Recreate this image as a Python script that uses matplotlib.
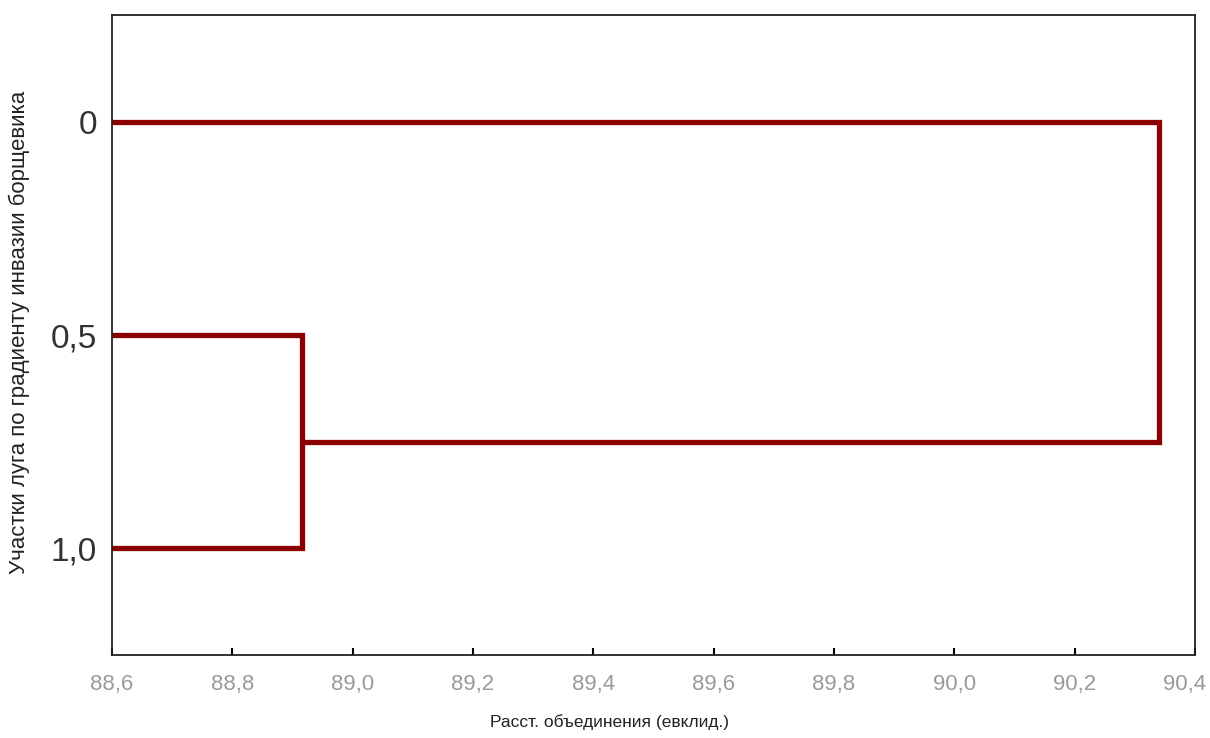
import matplotlib.pyplot as plt
from matplotlib.transforms import ScaledTranslation

plt.rcParams['font.family'] = ['Liberation Sans', 'DejaVu Sans']

# leaves (top to bottom) and the two joins of the tree
leaf_labels = ['0', '0,5', '1,0']
join_pairs = [(1, 2), (0, 3)]          # 3 = cluster made by the first join
join_dist = [88.916, 90.34]

x_ticks = [88.6, 88.8, 89.0, 89.2, 89.4, 89.6, 89.8, 90.0, 90.2, 90.4]
x_tick_labels = ['88,6', '88,8', '89,0', '89,2', '89,4', '89,6', '89,8', '90,0', '90,2', '90,4']

color = '#8b0000'

fig = plt.figure(figsize=(12.1, 7.38), dpi=100)
ax = fig.add_axes([0.0926, 0.1125, 0.895, 0.867])

# node position (y) and height (x); leaves sit at distance 0
pos = {i: i + 1 for i in range(len(leaf_labels))}
hgt = {i: 0.0 for i in range(len(leaf_labels))}
for k, ((a, b), d) in enumerate(zip(join_pairs, join_dist)):
    node = len(leaf_labels) + k
    ax.plot([hgt[a], d, d, hgt[b]], [pos[a], pos[a], pos[b], pos[b]],
            color=color, lw=3.8, solid_joinstyle='miter', solid_capstyle='butt')
    pos[node] = (pos[a] + pos[b]) / 2
    hgt[node] = d

ax.set_xlim(88.6, 90.4)
ax.set_ylim(3.5, 0.5)

ax.set_xticks(x_ticks)
ax.set_xticklabels(x_tick_labels, color='#9a9a9a', fontsize=16)
ax.tick_params(axis='x', direction='in', length=5, width=1.5, pad=14)
# last label pulled in so it stays inside the figure
last = ax.get_xticklabels()[-1]
last.set_transform(last.get_transform() + ScaledTranslation(-0.1, 0, fig.dpi_scale_trans))

ax.set_yticks([1, 2, 3])
ax.set_yticklabels(leaf_labels, fontsize=24, color='#333333')
ax.tick_params(axis='y', length=0, pad=11)

for s in ax.spines.values():
    s.set_linewidth(1.3)
    s.set_color('#222222')

fig.text(0.504, 0.022, 'Расст. объединения (евклид.)', ha='center', va='center',
         fontsize=12.5, color='#222222')
fig.text(0.016, 0.549, 'Участки луга по градиенту инвазии борщевика', ha='center',
         va='center', rotation=90, fontsize=16, color='#222222')

fig.savefig('out.png', dpi=100)
